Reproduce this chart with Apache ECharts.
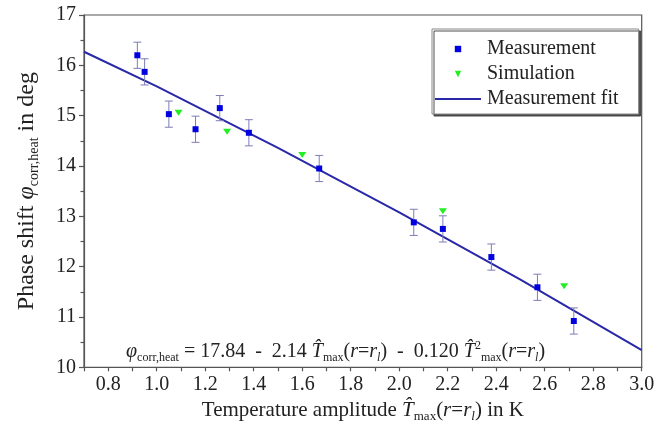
<!DOCTYPE html>
<html>
<head>
<meta charset="utf-8">
<script src="https://cdn.jsdelivr.net/npm/echarts@6/dist/echarts.min.js"></script>
<style>
html,body{margin:0;padding:0;background:#fff;}
#chart{width:666px;height:440px;}
</style>
</head>
<body>
<div id="chart"></div>
<script>
// Measurement data (x = temperature amplitude in K, y = phase shift in deg, err = error bar half-length)
const measX = [0.92, 0.95, 1.05, 1.16, 1.26, 1.38, 1.67, 2.06, 2.18, 2.38, 2.57, 2.72];
const measY = [16.20, 15.87, 15.03, 14.73, 15.15, 14.66, 13.95, 12.88, 12.75, 12.19, 11.59, 10.92];
const measErr = [0.26, 0.26, 0.26, 0.26, 0.25, 0.26, 0.26, 0.26, 0.26, 0.26, 0.26, 0.26];
// Simulation data
const simX = [1.09, 1.29, 1.60, 2.18, 2.68];
const simY = [15.06, 14.68, 14.22, 13.10, 11.61];
const fitX = [0.7, 1.0, 1.5, 2.0, 2.5, 3.0];
const fitY = [16.27, 15.58, 14.36, 13.08, 11.74, 10.34];
// Tick labels
const xTickLabels = ['0.8','1.0','1.2','1.4','1.6','1.8','2.0','2.2','2.4','2.6','2.8','3.0'];
const yTickLabels = ['10','11','12','13','14','15','16','17'];

const FONT = '"Liberation Serif", "Times New Roman", serif';
function makeRich(fs) {
  const sfs = Math.round(fs * 0.6);
  const off = Math.round(fs * 0.6);
  return {
    it: {fontFamily: FONT, fontStyle: 'italic', fontSize: fs, color: '#222'},
    n: {fontFamily: FONT, fontSize: fs, color: '#222'},
    sub: {fontFamily: FONT, fontSize: sfs, color: '#222', padding: [off, 0, 0, 0]},
    subit: {fontFamily: FONT, fontSize: sfs, fontStyle: 'italic', color: '#222', padding: [off, 0, 0, 0]},
    sup: {fontFamily: FONT, fontSize: sfs, color: '#222', padding: [0, 0, off, 0]}
  };
}

const chart = echarts.init(document.getElementById('chart'), null, {renderer: 'canvas'});

const option = {
  animation: false,
  backgroundColor: '#fff',
  grid: {left: 84, top: 15, width: 557.7, height: 352.3, show: true, borderColor: '#555', borderWidth: 1.2, backgroundColor: 'transparent'},
  legend: {
    orient: 'vertical',
    left: 432, top: 29,
    padding: [10, 20, 5, 2],
    itemWidth: 46, itemHeight: 8, itemGap: 5,
    backgroundColor: '#fff',
    borderColor: '#888', borderWidth: 1,
    shadowColor: 'rgba(60,60,60,0.9)', shadowOffsetX: 2, shadowOffsetY: 2, shadowBlur: 0,
    textStyle: {fontFamily: FONT, fontSize: 20, color: '#222', padding: [0, 0, 0, 1]},
    data: [
      {name: 'Measurement'},
      {name: 'Simulation'},
      {name: 'Measurement fit', itemStyle: {color: 'rgba(0,0,0,0)', opacity: 0}}
    ]
  },
  xAxis: {
    type: 'value', min: 0.7, max: 3.0, interval: 0.1,
    splitLine: {show: false},
    axisLine: {show: true, onZero: false, lineStyle: {color: '#555', width: 1.2}},
    axisTick: {show: true, inside: false, length: 4, lineStyle: {color: '#555', width: 1.2}},
    axisLabel: {
      fontFamily: FONT, fontSize: 20, color: '#222', margin: 7,
      formatter: function (v) {
        const s = v.toFixed(1);
        return xTickLabels.indexOf(s) >= 0 ? s : '';
      }
    },
    name: 'Temperature amplitude {it|T\u0302}{sub|max}({it|r}={it|r}{subit|l}) in K',
    nameLocation: 'middle', nameGap: 30,
    nameTextStyle: {fontFamily: FONT, fontSize: 21, color: '#222', rich: makeRich(21)}
  },
  yAxis: {
    type: 'value', min: 10, max: 17, interval: 1,
    splitLine: {show: false},
    axisLine: {show: true, onZero: false, lineStyle: {color: '#555', width: 1.2}},
    axisTick: {show: true, inside: false, length: 5, lineStyle: {color: '#555', width: 1.2}},
    minorTick: {show: true, splitNumber: 2, length: 3.5, lineStyle: {color: '#555', width: 1.2}},
    axisLabel: {
      fontFamily: FONT, fontSize: 20, color: '#222', margin: 8,
      formatter: function (v) { const s = String(Math.round(v)); return yTickLabels.indexOf(s) >= 0 ? s : ''; }
    },
    name: 'Phase shift {it|\u03C6}{sub|corr,heat} in deg',
    nameLocation: 'middle', nameGap: 43,
    nameTextStyle: {fontFamily: FONT, fontSize: 24, color: '#222', rich: makeRich(24)}
  },
  series: [
    {
      name: 'Measurement fit', type: 'line',
      data: fitX.map((x, i) => [x, fitY[i]]),
      symbol: 'none', showSymbol: false,
      lineStyle: {color: '#2828a8', width: 2},
      itemStyle: {color: '#2828a8'},
      z: 2
    },
    {
      name: 'errorbars', type: 'custom',
      data: measX.map((x, i) => [x, measY[i], measErr[i]]),
      renderItem: function (params, api) {
        const x = api.value(0), y = api.value(1), e = api.value(2);
        const top = api.coord([x, y + e]);
        const bot = api.coord([x, y - e]);
        const style = {stroke: '#7d7db8', lineWidth: 1};
        return {
          type: 'group',
          children: [
            {type: 'line', shape: {x1: top[0], y1: top[1], x2: bot[0], y2: bot[1]}, style: style},
            {type: 'line', shape: {x1: top[0] - 4, y1: top[1], x2: top[0] + 4, y2: top[1]}, style: style},
            {type: 'line', shape: {x1: bot[0] - 4, y1: bot[1], x2: bot[0] + 4, y2: bot[1]}, style: style}
          ]
        };
      },
      z: 3
    },
    {
      name: 'Measurement', type: 'line',
      data: measX.map((x, i) => [x, measY[i]]),
      symbol: 'rect', symbolSize: 6, showSymbol: true,
      lineStyle: {width: 0, opacity: 0},
      itemStyle: {color: '#0000e0'},
      z: 4
    },
    {
      name: 'Simulation', type: 'line',
      data: simX.map((x, i) => [x, simY[i]]),
      symbol: 'path://M0,0 L10,0 L5,8 Z', symbolSize: [8, 6], showSymbol: true,
      lineStyle: {width: 0, opacity: 0},
      itemStyle: {color: '#22ee22'},
      z: 4
    }
  ],
  graphic: [
    {
      type: 'text', left: 126, top: 340, z: 10,
      style: {
        text: '{it|\u03C6}{sub|corr,heat} = 17.84  -  2.14 {it|T\u0302}{sub|max}({it|r}={it|r}{subit|l})  -  0.120 {it|T\u0302}{sup|2}{sub|max}({it|r}={it|r}{subit|l})',
        font: '20px ' + FONT, fill: '#222',
        rich: makeRich(20)
      }
    }
  ]
};
chart.setOption(option);
</script>
</body>
</html>
